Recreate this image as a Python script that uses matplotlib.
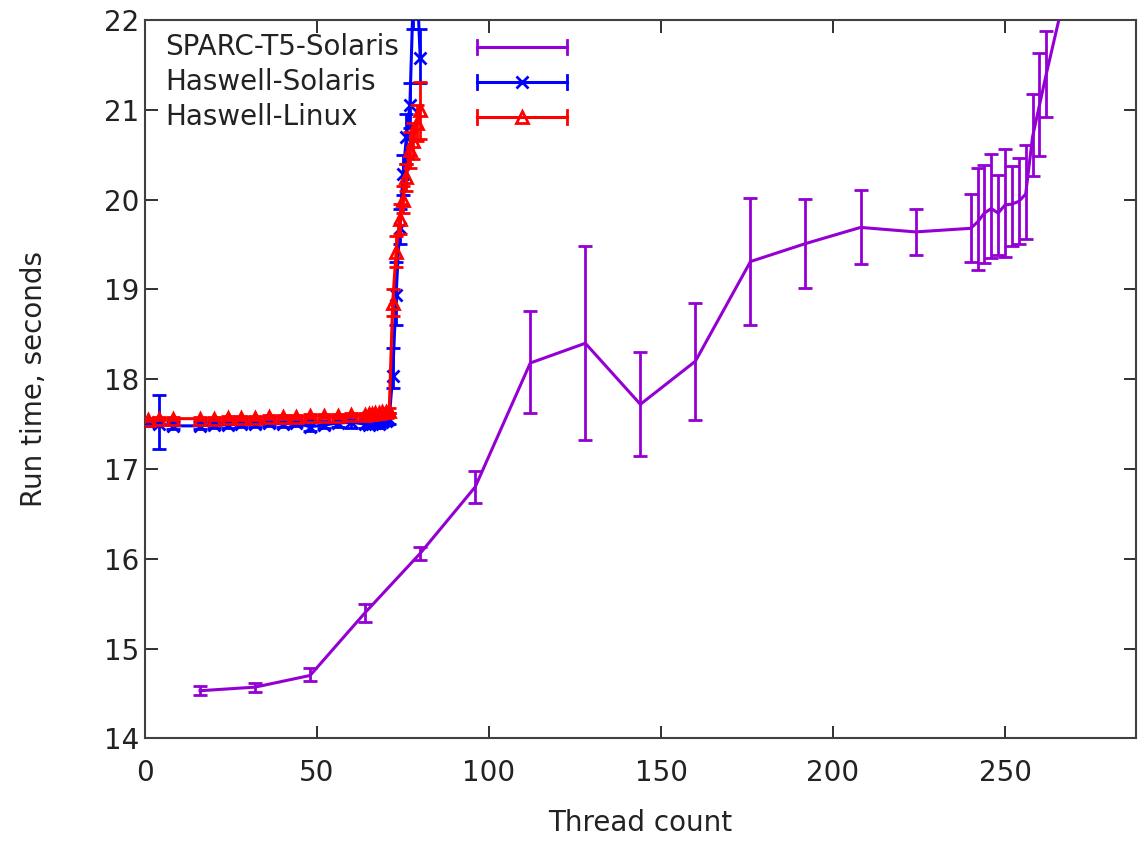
import matplotlib
matplotlib.use("Agg")
import matplotlib.pyplot as plt
import numpy as np

# ---------------- data ----------------
sparc_x = [16, 32, 48, 64, 80, 96, 112, 128, 144, 160, 176, 192, 208, 224, 240,
           242, 244, 246, 248, 250, 252, 254, 256, 258, 260, 262, 272]
sparc_y = [14.53, 14.57, 14.70, 15.40, 16.06, 16.80, 18.18, 18.40, 17.72, 18.20, 19.31, 19.51, 19.69, 19.64, 19.68,
           19.75, 19.85, 19.90, 19.85, 19.94, 19.95, 19.98, 20.06, 20.70, 21.05, 21.40, 23.05]
sparc_lo = [14.48, 14.52, 14.64, 15.30, 15.99, 16.62, 17.62, 17.32, 17.14, 17.55, 18.60, 19.02, 19.28, 19.38, 19.30,
            19.22, 19.29, 19.35, 19.38, 19.36, 19.48, 19.51, 19.56, 20.26, 20.49, 20.92, 22.50]
sparc_hi = [14.58, 14.62, 14.78, 15.50, 16.13, 16.98, 18.76, 19.48, 18.30, 18.85, 20.02, 20.01, 20.11, 19.90, 20.06,
            20.35, 20.39, 20.51, 20.27, 20.56, 20.37, 20.46, 20.61, 21.18, 21.63, 21.88, 23.60]

has_x = [1, 4, 8, 16, 20, 24, 28, 32, 36, 40, 44, 48, 52, 56, 60, 64, 65, 66, 67, 68,
         69, 70, 71, 72, 73, 74, 75, 76, 77, 78, 79, 80]

sol_y = [17.52, 17.50, 17.48, 17.48, 17.49, 17.49, 17.50, 17.50, 17.51, 17.50, 17.51, 17.47, 17.49, 17.51, 17.52,
         17.50, 17.49, 17.50, 17.51, 17.50, 17.52, 17.53, 17.56, 18.04, 18.94, 19.68, 20.28, 20.70, 21.05, 22.30, 22.50, 21.58]
sol_lo = [17.48, 17.22, 17.45, 17.45, 17.46, 17.46, 17.47, 17.47, 17.48, 17.47, 17.48, 17.42, 17.46, 17.47, 17.46,
          17.46, 17.46, 17.47, 17.47, 17.46, 17.48, 17.49, 17.50, 17.90, 18.60, 19.50, 20.05, 20.40, 20.80, 21.90, 22.10, 21.30]
sol_hi = [17.56, 17.82, 17.52, 17.52, 17.52, 17.52, 17.53, 17.53, 17.54, 17.53, 17.54, 17.55, 17.53, 17.58, 17.60,
          17.56, 17.53, 17.54, 17.55, 17.55, 17.57, 17.58, 17.62, 18.35, 19.30, 19.90, 20.50, 20.95, 21.30, 22.70, 22.90, 21.90]

lin_y = [17.55, 17.56, 17.56, 17.56, 17.56, 17.57, 17.57, 17.57, 17.58, 17.58, 17.58, 17.59, 17.59, 17.59, 17.60,
         17.60, 17.61, 17.61, 17.62, 17.62, 17.63, 17.63, 17.65, 18.85, 19.42, 19.78, 20.00, 20.25, 20.55, 20.65, 20.85, 21.00]
lin_lo = [17.53, 17.54, 17.54, 17.54, 17.54, 17.55, 17.55, 17.55, 17.56, 17.56, 17.56, 17.57, 17.57, 17.57, 17.58,
          17.58, 17.59, 17.59, 17.60, 17.60, 17.61, 17.61, 17.62, 18.70, 19.25, 19.62, 19.85, 20.10, 20.35, 20.45, 20.65, 20.68]
lin_hi = [17.57, 17.58, 17.58, 17.58, 17.58, 17.59, 17.59, 17.59, 17.60, 17.60, 17.60, 17.61, 17.61, 17.61, 17.62,
          17.62, 17.63, 17.63, 17.64, 17.64, 17.65, 17.65, 17.68, 19.00, 19.60, 19.95, 20.15, 20.40, 20.75, 20.85, 21.05, 21.31]

labels = ["SPARC-T5-Solaris", "Haswell-Solaris", "Haswell-Linux"]
colors = ["#9400D3", "#0000FF", "#FF0000"]

FS = 20
TXT = '#222222'

# ---------------- figure ----------------
plt.rcParams['font.family'] = ['DejaVu Sans']
fig = plt.figure(figsize=(11.47, 8.41), dpi=100)
ax = fig.add_axes([0.1264, 0.1221, 0.8638, 0.8541])

def yerr(y, lo, hi):
    y = np.array(y); lo = np.array(lo); hi = np.array(hi)
    return np.vstack([y - lo, hi - y])

ax.errorbar(sparc_x, sparc_y, yerr=yerr(sparc_y, sparc_lo, sparc_hi), color=colors[0],
            lw=2.2, elinewidth=2.0, capsize=5, capthick=2.0, zorder=3)
ax.errorbar(has_x, sol_y, yerr=yerr(sol_y, sol_lo, sol_hi), color=colors[1],
            lw=2.2, elinewidth=2.0, capsize=5, capthick=2.0, marker='x', ms=9, mew=2.0, zorder=4)
ax.errorbar(has_x, lin_y, yerr=yerr(lin_y, lin_lo, lin_hi), color=colors[2],
            lw=2.2, elinewidth=2.0, capsize=5, capthick=2.0, marker='^', ms=9, mew=2.0,
            mfc='none', zorder=5)

ax.set_xlim(0, 288)
ax.set_ylim(14, 22)
ax.set_xticks([0, 50, 100, 150, 200, 250])
ax.set_yticks([14, 15, 16, 17, 18, 19, 20, 21, 22])

for s in ax.spines.values():
    s.set_color('#404040')
    s.set_linewidth(1.5)
ax.tick_params(direction='in', length=9, width=1.3, color='#202020',
               top=True, right=True, labelsize=FS, labelcolor=TXT)
ax.tick_params(axis='x', pad=15)
ax.tick_params(axis='y', pad=4)

ax.set_xlabel("Thread count", fontsize=FS, color=TXT)
ax.set_ylabel("Run time, seconds", fontsize=FS, color=TXT)
ax.xaxis.set_label_coords(0.5, -0.098)
ax.yaxis.set_label_coords(-0.098, 0.5)

# gnuplot-style key
rows = [0.962, 0.914, 0.865]
markers = [None, 'x', '^']
x0, x1 = 0.335, 0.426
for lab, col, mk, yy in zip(labels, colors, markers, rows):
    ax.text(0.020, yy, lab, transform=ax.transAxes, fontsize=FS, va='center', ha='left',
            color=TXT, zorder=2)
    ax.plot([x0, x1], [yy, yy], transform=ax.transAxes, color=col, lw=2.2, clip_on=False)
    for xc in (x0, x1):
        ax.plot([xc, xc], [yy - 0.010, yy + 0.010], transform=ax.transAxes, color=col, lw=2.0,
                clip_on=False)
    if mk is not None:
        ax.plot([(x0 + x1) / 2], [yy], transform=ax.transAxes, color=col, marker=mk, ms=9, mew=2.0,
                mfc='none', clip_on=False)

fig.savefig("out.png", dpi=100)
